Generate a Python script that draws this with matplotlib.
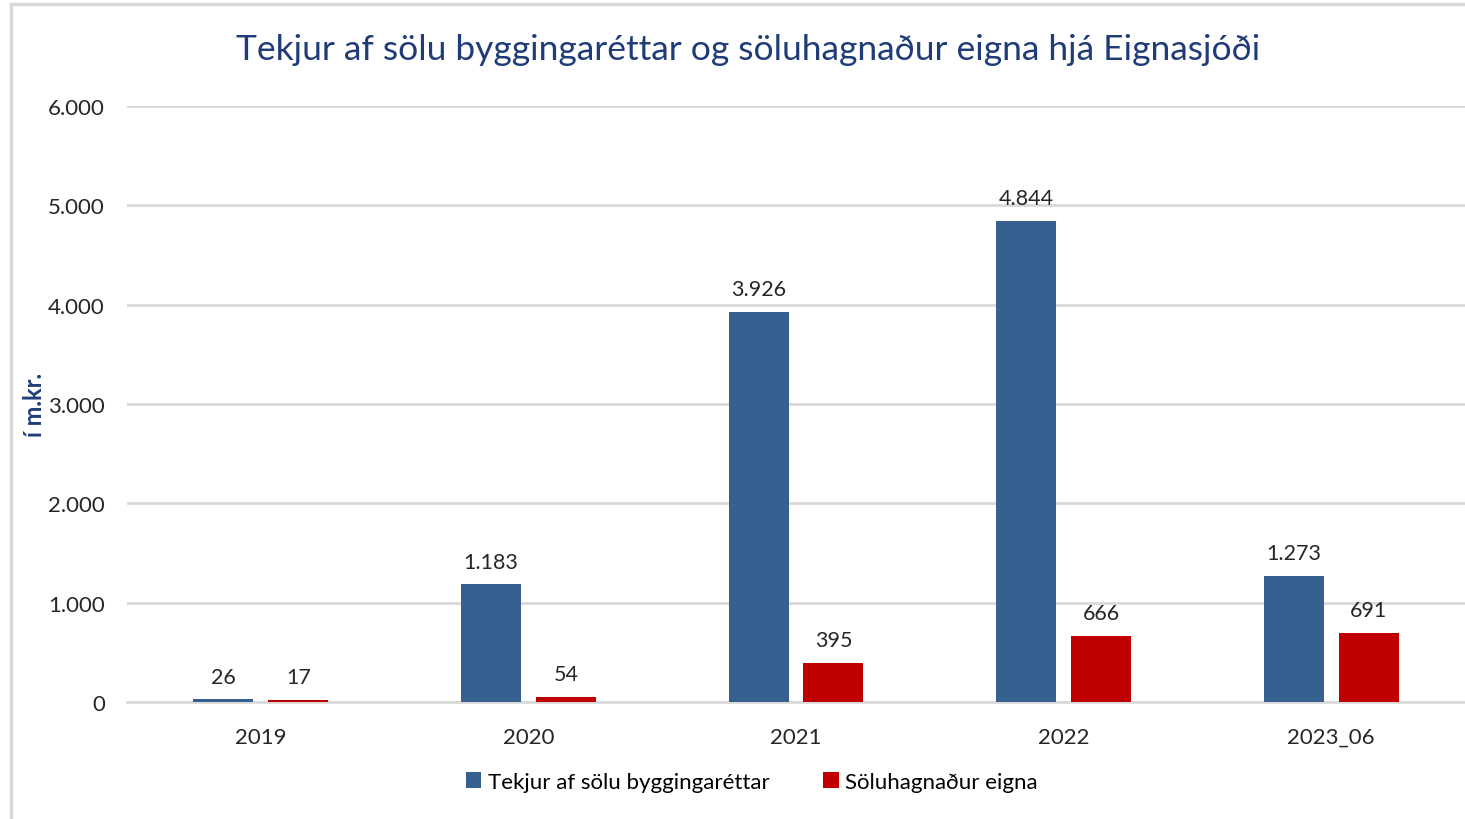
import matplotlib.pyplot as plt
import matplotlib.patches as mpatches
import numpy as np

years = ['2019', '2020', '2021', '2022', '2023_06']
tekjur = [26, 1183, 3926, 4844, 1273]
soluhagn = [17, 54, 395, 666, 691]
series_names = ['Tekjur af sölu byggingaréttar', 'Söluhagnaður eigna']

plt.rcParams['font.family'] = ['Lato', 'DejaVu Sans']

blue = '#35608F'
red = '#C00000'
navy = '#1F3C78'


def fmt(v):
    return f'{v:,.0f}'.replace(',', '.')


fig = plt.figure(figsize=(14.65, 8.2), dpi=100)
# light outer frame of the chart object
fig.patches.append(mpatches.Rectangle((11 / 1465, -0.01), 1.1, 1 - 5 / 820 + 0.01,
                                      transform=fig.transFigure, fill=False,
                                      edgecolor='#D9D9D9', linewidth=2.5))

ax = fig.add_axes([127 / 1465, 1 - 703 / 820, (1465 - 127) / 1465, (703 - 107) / 820])

x = np.arange(len(years))
w = 0.224
off = 0.14
b1 = ax.bar(x - off, tekjur, w, color=blue, label=series_names[0], zorder=3)
b2 = ax.bar(x + off, soluhagn, w, color=red, label=series_names[1], zorder=3)

for rects, vals in ((b1, tekjur), (b2, soluhagn)):
    for r, v in zip(rects, vals):
        ax.text(r.get_x() + r.get_width() / 2, v + 130, fmt(v), ha='center', va='bottom',
                fontsize=15.5, color='#262626')

ax.set_xlim(-0.5, len(years) - 0.5)
ax.set_ylim(0, 6000)
ax.set_yticks(range(0, 6001, 1000))
ax.set_yticklabels([fmt(v) for v in range(0, 6001, 1000)], fontsize=16, color='#262626')
ax.set_xticks(x)
ax.set_xticklabels(years, fontsize=16, color='#262626')
ax.tick_params(length=0)
ax.tick_params(axis='y', pad=16)
ax.tick_params(axis='x', pad=18)
ax.yaxis.grid(True, color='#D9D9D9', linewidth=2, zorder=0)
for s in ['top', 'right', 'left']:
    ax.spines[s].set_visible(False)
ax.spines['bottom'].set_color('#D9D9D9')
ax.spines['bottom'].set_linewidth(2)

fig.text(35 / 1465, 1 - 405 / 820, 'í m.kr.', rotation=90, ha='center', va='center',
         fontsize=17, color=navy, fontweight='bold')
fig.text(748 / 1465, 1 - 50 / 820, 'Tekjur af sölu byggingaréttar og söluhagnaður eigna hjá Eignasjóði',
         ha='center', va='center', fontsize=25.5, color=navy)

fig.legend(handles=[b1, b2], loc='center', bbox_to_anchor=(752 / 1465, 1 - 783 / 820),
           ncol=2, frameon=False, fontsize=16, handlelength=0.7, handleheight=0.7,
           handletextpad=0.3, columnspacing=2.4)

fig.savefig('out.png', dpi=100)
